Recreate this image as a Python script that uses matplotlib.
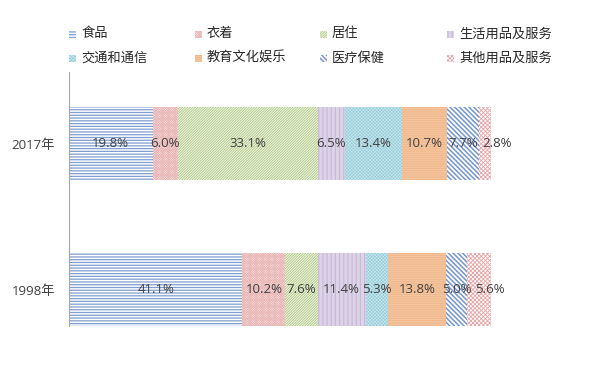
import matplotlib
matplotlib.use("Agg")
import matplotlib.pyplot as plt
from matplotlib.patches import Rectangle

plt.rcParams['font.family'] = ['Noto Sans CJK SC', 'DejaVu Sans']
num_font = ['Open Sans', 'Noto Sans CJK SC']

# data
years = ["1998年", "2017年"]
categories = ["食品", "衣着", "居住", "生活用品及服务",
              "交通和通信", "教育文化娱乐", "医疗保健", "其他用品及服务"]
share_1998 = [41.1, 10.2, 7.6, 11.4, 5.3, 13.8, 5.0, 5.6]
share_2017 = [19.8, 6.0, 33.1, 6.5, 13.4, 10.7, 7.7, 2.8]

# fill styles (face, hatch colour, hatch, hatch width)
styles = [
    ("white", "#7E9DD0", "------", 0.9),
    ("#FAE6E6", "#E8B4B4", "x" * 14, 0.5),
    ("#F4F8EC", "#A9C47A", "/" * 13, 0.6),
    ("#DCD3E6", "#C6B9D8", "||||", 0.8),
    ("#93CCDA", "#CFE8EE", "x" * 10, 0.4),
    ("#F0B98D", "#F5C9A5", "-" * 9, 0.5),
    ("white", "#7495CE", "\\" * 7, 1.1),
    ("white", "#E6A4A4", "x" * 8, 0.6),
]
# the last labels sit a bit to the right of their segment
label_shift = {7: (7.5, 8.5)}

fig = plt.figure(figsize=(5.91, 3.77), dpi=100)
ax = fig.add_axes([69 / 591, 51 / 377, 422 / 591, 254 / 377])

left = [0.0, 0.0]
for i, cat in enumerate(categories):
    vals = [share_1998[i], share_2017[i]]
    fc, hc, h, hw = styles[i]
    with plt.rc_context({'hatch.linewidth': hw}):
        bars = ax.barh([0, 1], vals, height=0.5, left=left, color=fc,
                       edgecolor=hc, hatch=h, linewidth=0, label=cat)
    anns = ax.bar_label(bars, labels=[f"{v:.1f}%" for v in vals], label_type="center",
                        fontsize=9.5, color="#404040", family=num_font)
    if i in label_shift:
        for a, dx in zip(anns, label_shift[i]):
            a.xyann = (dx, 0)
    left = [left[0] + vals[0], left[1] + vals[1]]

ax.set_xlim(0, 100)
ax.set_ylim(-0.25, 1.49)
ax.set_yticks([0, 1])
ax.set_yticklabels(years, fontsize=9.5, color="#404040", family=num_font)
ax.tick_params(axis="y", length=0, pad=10)
ax.set_xticks([])
for s in ["top", "right", "bottom"]:
    ax.spines[s].set_visible(False)
ax.spines["left"].set_color("#A6A6A6")

# legend, laid out like the original (4 columns, 2 rows)
col_x = [72, 198, 323, 450]
row_y = [34, 58]
for i, cat in enumerate(categories):
    fc, hc, h, hw = styles[i]
    x = col_x[i % 4]
    y = row_y[i // 4]
    with plt.rc_context({'hatch.linewidth': hw}):
        fig.patches.append(Rectangle(((x - 3) / 591, 1 - (y + 4) / 377), 7 / 591, 7 / 377,
                                     transform=fig.transFigure, facecolor=fc,
                                     edgecolor=hc, hatch=h, linewidth=0))
    fig.text((x + 9) / 591, 1 - y / 377, cat, fontsize=9.5, color="#262626",
             va="center", ha="left")

fig.savefig("out.png", dpi=100)
